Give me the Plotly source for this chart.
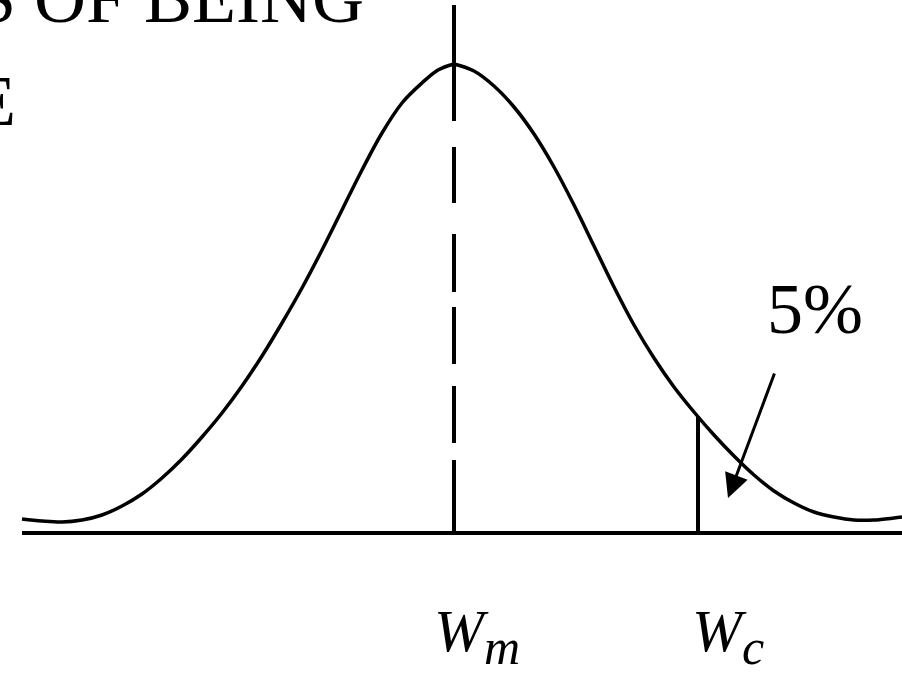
import plotly.graph_objects as go

# Curve: x position, height above baseline
curve_left_x = [22, 42, 62, 82, 102, 122, 142, 162, 182, 202, 222, 242, 262, 282,
                302, 322, 342, 362, 382, 402, 422, 438, 454]
curve_left_h = [14, 12, 11, 13, 18, 27, 39, 55, 74, 96, 120, 147, 177, 210,
                245, 283, 323, 363, 400, 430, 450, 463, 469]
curve_right_x = [454, 474, 494, 514, 534, 554, 574, 594, 614, 634, 654, 674, 694,
                 714, 734, 754, 774, 794, 814, 834, 854, 874, 894, 902]
curve_right_h = [469, 462, 447, 426, 399, 366, 328, 287, 246, 208, 175, 146, 121,
                 98, 77, 58, 42, 30, 21, 16, 13, 13, 15, 16]

baseline_x = [22, 902]
baseline_h = [0, 0]

wm_x = [454, 454]
wm_h = [528, 0]
wc_x = [698, 698]
wc_h = [117, 0]

arrow_tail = (775, 161)
arrow_tip = (728, 35)

labels = ["<i>W</i><sub><span style='font-size:50px'><i>m</i></span></sub>",
          "<i>W</i><sub><span style='font-size:50px'><i>c</i></span></sub>"]
label_x = [477, 728]
pct_label = "5%"
title_line1 = "S OF BEING"
title_line2 = "E"

W, H = 902, 673
BLACK = "#000000"
fig = go.Figure()
for cx, ch in ((curve_left_x, curve_left_h), (curve_right_x, curve_right_h)):
    fig.add_trace(go.Scatter(x=cx, y=ch, mode="lines",
                             line=dict(color=BLACK, width=3.5, shape="spline", smoothing=1.0),
                             hoverinfo="skip", showlegend=False))
fig.add_trace(go.Scatter(x=baseline_x, y=baseline_h, mode="lines",
                         line=dict(color=BLACK, width=4),
                         hoverinfo="skip", showlegend=False))
fig.add_trace(go.Scatter(x=wm_x, y=wm_h, mode="lines",
                         line=dict(color=BLACK, width=4,
                                   dash="116px,26px,56px,31px,58px,15px,57px,22px,57px,17px,200px"),
                         hoverinfo="skip", showlegend=False))
fig.add_trace(go.Scatter(x=wc_x, y=wc_h, mode="lines",
                         line=dict(color=BLACK, width=4),
                         hoverinfo="skip", showlegend=False))

fig.add_annotation(x=arrow_tip[0], y=arrow_tip[1], ax=arrow_tail[0], ay=arrow_tail[1],
                   axref="x", ayref="y", xref="x", yref="y", text="",
                   showarrow=True, arrowhead=2, arrowsize=1.6, arrowwidth=3, arrowcolor=BLACK)

serif = "Liberation Serif, Times New Roman, serif"
fig.add_annotation(x=815, y=224, xref="x", yref="y", text=pct_label, showarrow=False,
                   font=dict(family=serif, size=72, color=BLACK), xanchor="center", yanchor="middle")
fig.add_annotation(x=-26 / W, y=(H + 2) / H, xref="paper", yref="paper", text=title_line1,
                   showarrow=False, font=dict(family=serif, size=72, color=BLACK),
                   xanchor="left", yanchor="middle")
fig.add_annotation(x=18 / W, y=(H - 101) / H, xref="paper", yref="paper", text=title_line2,
                   showarrow=False, font=dict(family=serif, size=72, color=BLACK),
                   xanchor="right", yanchor="middle")
for lx, lt in zip(label_x, labels):
    fig.add_annotation(x=lx, y=-103, xref="x", yref="y", text=lt, showarrow=False,
                       font=dict(family=serif, size=60, color=BLACK), xanchor="center", yanchor="middle")

fig.update_layout(width=W, height=H, margin=dict(l=0, r=0, t=0, b=0),
                  paper_bgcolor="white", plot_bgcolor="white")
fig.update_xaxes(range=[0, 902], visible=False, fixedrange=True)
fig.update_yaxes(range=[-140, 533], visible=False, fixedrange=True)

fig.write_html("out.html", config={"displayModeBar": False},
               post_script="document.body.style.margin='0';document.body.style.overflow='hidden';")
